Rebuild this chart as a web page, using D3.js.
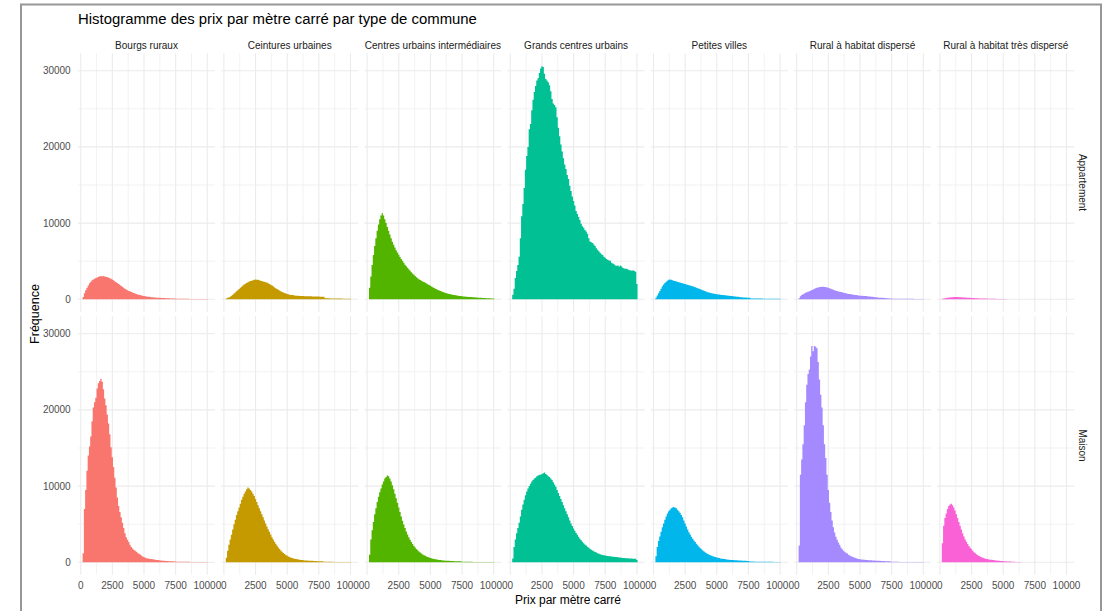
<!DOCTYPE html>
<html>
<head>
<meta charset="utf-8">
<script src="https://cdn.jsdelivr.net/npm/d3@7"></script>
<style>
  body { margin: 0; background: #fff; }
  svg { display: block; }
</style>
</head>
<body>
<svg id="chart" width="1109" height="611"></svg>
<script>
// Facet labels
const communes = [
  "Bourgs ruraux", "Ceintures urbaines", "Centres urbains intermédiaires",
  "Grands centres urbains", "Petites villes", "Rural à habitat dispersé",
  "Rural à habitat très dispersé"
];
const logements = ["Appartement", "Maison"];

// Histogram bins: width 100 €/m², centred on 200, 300, ..., 10000
const binFirstCentre = 200;
const binWidth = 100;

// Counts per bin — Appartement
const appBourgs = [
  300, 800, 1200, 1500, 1800, 2100, 2300, 2500, 2600, 2700,
  2800, 2850, 2950, 3000, 3050, 3000, 3050, 3000, 2950, 2900,
  2850, 2750, 2700, 2600, 2500, 2350, 2250, 2150, 2000, 1900,
  1750, 1650, 1500, 1400, 1300, 1200, 1100, 1050, 950, 900,
  820, 760, 700, 640, 590, 550, 500, 460, 420, 400,
  370, 340, 320, 300, 280, 260, 250, 230, 220, 210,
  200, 190, 180, 170, 160, 150, 140, 130, 130, 120,
  110, 110, 100, 90, 85, 80, 80, 75, 70, 70,
  65, 65, 60, 60, 55, 55, 50, 50, 50, 45,
  45, 45, 40, 40, 40, 35, 35, 35, 30
];
const appCeintures = [
  100, 200, 250, 350, 450, 600, 750, 900, 1050, 1200,
  1350, 1500, 1650, 1800, 1950, 2050, 2150, 2250, 2350, 2400,
  2450, 2500, 2550, 2600, 2550, 2550, 2500, 2450, 2400, 2350,
  2300, 2250, 2200, 2100, 2000, 1900, 1800, 1700, 1550, 1450,
  1350, 1250, 1150, 1050, 950, 880, 820, 760, 700, 650,
  610, 580, 550, 530, 500, 480, 460, 450, 440, 430,
  420, 420, 410, 410, 400, 400, 390, 390, 380, 380,
  370, 370, 360, 360, 350, 350, 340, 340, 150, 140,
  130, 130, 120, 120, 110, 110, 100, 100, 100, 90,
  90, 90, 80, 80, 80, 70, 70, 70, 60
];
const appCentres = [
  1500, 3000, 4500, 5800, 7000, 8000, 9000, 9800, 10500, 11000,
  11300, 11000, 10500, 10000, 9500, 9000, 8500, 8000, 7550, 7150,
  6800, 6450, 6150, 5850, 5550, 5300, 5050, 4800, 4550, 4350,
  4150, 3950, 3750, 3550, 3380, 3220, 3060, 2910, 2770, 2640,
  2530, 2440, 2350, 2260, 2170, 2090, 1980, 1880, 1780, 1680,
  1570, 1480, 1390, 1310, 1230, 1140, 1080, 1020, 960, 900,
  840, 790, 740, 700, 660, 620, 580, 550, 520, 490,
  460, 440, 420, 400, 380, 360, 345, 330, 315, 300,
  290, 280, 270, 255, 240, 230, 220, 210, 195, 180,
  170, 160, 150, 140, 130, 125, 120, 115, 110
];
const appGrands = [
  600, 1400, 2800, 3700, 4500, 5600, 8000, 10900, 12500, 14600,
  17000, 18800, 20000, 22300, 23000, 24800, 26200, 27200, 28000, 28700,
  29000, 29700, 30300, 30600, 30500, 29600, 28900, 28700, 28500, 28100,
  27300, 26300, 25700, 25500, 25200, 23900, 22500, 21400, 20300, 19400,
  18500, 17700, 17100, 16300, 15800, 14900, 14200, 13500, 12900, 12300,
  11600, 11200, 10800, 10400, 9900, 9600, 9400, 9100, 8900, 8600,
  8000, 7600, 7500, 7400, 7200, 7000, 6700, 6500, 6300, 6100,
  5900, 5800, 5600, 5450, 5300, 5200, 5100, 5050, 4800, 4700,
  4600, 4450, 4400, 4450, 4300, 4450, 4300, 4100, 4050, 4000,
  4000, 3900, 3800, 3800, 3750, 3800, 3700, 3600, 2000
];
const appPetites = [
  200, 500, 800, 1100, 1400, 1700, 1950, 2150, 2300, 2450,
  2550, 2600, 2550, 2500, 2450, 2400, 2350, 2300, 2250, 2200,
  2150, 2100, 2050, 2000, 1950, 1900, 1850, 1800, 1750, 1700,
  1650, 1580, 1520, 1460, 1400, 1330, 1260, 1190, 1120, 1050,
  990, 930, 880, 830, 790, 760, 730, 700, 670, 640,
  620, 600, 580, 560, 540, 520, 500, 480, 460, 440,
  420, 400, 380, 360, 340, 320, 300, 280, 260, 250,
  240, 230, 220, 210, 200, 120, 115, 110, 105, 100,
  100, 95, 95, 90, 90, 85, 85, 80, 80, 80,
  75, 75, 70, 70, 70, 65, 65, 60, 60
];
const appDisperse = [
  150, 400, 550, 650, 750, 850, 920, 980, 1050, 1130,
  1220, 1300, 1380, 1440, 1500, 1550, 1600, 1630, 1650, 1650,
  1620, 1600, 1560, 1500, 1440, 1380, 1320, 1260, 1200, 1130,
  1080, 1040, 1000, 960, 920, 870, 820, 780, 740, 710,
  680, 660, 640, 610, 580, 550, 520, 500, 480, 460,
  450, 440, 430, 420, 400, 380, 360, 340, 320, 300,
  280, 260, 240, 220, 210, 200, 190, 180, 170, 150,
  130, 110, 90, 90, 85, 85, 80, 80, 80, 75,
  75, 75, 70, 70, 70, 65, 65, 65, 60, 60,
  60, 55, 55, 55, 50, 50, 50, 50, 45
];
const appTresDisperse = [
  80, 120, 150, 180, 200, 230, 250, 270, 280, 290,
  300, 300, 290, 280, 270, 260, 250, 240, 230, 220,
  210, 200, 190, 180, 170, 160, 150, 140, 130, 120,
  115, 110, 105, 100, 95, 90, 85, 80, 75, 70,
  65, 60, 60, 55, 50, 50, 45, 40, 40, 35,
  30, 0, 0, 0, 0, 0, 0, 0, 0, 0,
  0, 0, 0, 0, 0, 0, 0, 0, 0, 0,
  0, 0, 0, 0, 0, 0, 0, 0, 0, 0,
  0, 0, 0, 0, 0, 0, 0, 0, 0, 0,
  0, 0, 0, 0, 0, 0, 0, 0, 0
];

// Counts per bin — Maison
const maiBourgs = [
  1200, 7000, 9500, 12000, 14000, 15200, 16500, 18500, 20300, 21000,
  21600, 22800, 23500, 23800, 24100, 23700, 22700, 21500, 20600, 19400,
  18200, 16800, 15100, 13800, 12500, 11100, 9800, 8500, 7400, 6600,
  5900, 5200, 4500, 3800, 3300, 2950, 2650, 2300, 2000, 1800,
  1650, 1500, 1380, 1250, 1120, 1020, 880, 750, 680, 600,
  540, 500, 470, 440, 420, 400, 370, 340, 310, 290,
  270, 250, 230, 210, 195, 180, 170, 160, 150, 140,
  135, 130, 110, 90, 85, 80, 80, 75, 70, 70,
  65, 65, 60, 60, 60, 55, 55, 50, 50, 50,
  45, 45, 45, 40, 40, 40, 35, 35, 30
];
const maiCeintures = [
  600, 1500, 2300, 3000, 3600, 4300, 5000, 5600, 6200, 6700,
  7200, 7700, 8200, 8600, 9000, 9300, 9600, 9800, 9700, 9500,
  9300, 9000, 8700, 8300, 7900, 7500, 7100, 6700, 6300, 5900,
  5500, 5100, 4700, 4350, 4000, 3650, 3300, 3000, 2700, 2450,
  2200, 1950, 1750, 1550, 1380, 1220, 1080, 950, 850, 760,
  680, 610, 550, 500, 460, 420, 390, 360, 330, 310,
  290, 270, 250, 240, 230, 220, 210, 200, 190, 180,
  170, 160, 150, 150, 140, 140, 130, 80, 75, 70,
  70, 65, 65, 60, 60, 55, 55, 55, 50, 50,
  50, 45, 45, 45, 40, 40, 40, 35, 35
];
const maiCentres = [
  1000, 3000, 4200, 5300, 6300, 7100, 7900, 8600, 9200, 9700,
  10200, 10600, 11000, 11200, 11400, 11300, 11000, 10600, 10100, 9600,
  9000, 8400, 7800, 7200, 6600, 6000, 5450, 4950, 4500, 4050,
  3650, 3300, 2950, 2650, 2400, 2150, 1950, 1750, 1580, 1420,
  1280, 1150, 1040, 940, 850, 770, 700, 630, 570, 520,
  470, 430, 400, 370, 340, 310, 290, 270, 250, 230,
  220, 210, 200, 190, 180, 170, 160, 150, 145, 140,
  135, 130, 125, 80, 75, 75, 70, 70, 65, 65,
  60, 60, 55, 55, 55, 50, 50, 50, 45, 45,
  45, 40, 40, 40, 35, 35, 35, 30, 30
];
const maiGrands = [
  500, 2000, 3000, 3800, 4500, 5200, 6000, 6900, 7600, 8200,
  8800, 9300, 9700, 10000, 10300, 10600, 10800, 11000, 11100, 11300,
  11400, 11500, 11500, 11600, 11700, 11800, 11600, 11500, 11300, 11200,
  11000, 10800, 10500, 10200, 9900, 9500, 9100, 8700, 8300, 7900,
  7500, 7100, 6700, 6300, 5900, 5500, 5100, 4750, 4450, 4150,
  3850, 3600, 3350, 3100, 2900, 2700, 2500, 2350, 2200, 2050,
  1900, 1780, 1660, 1550, 1450, 1360, 1280, 1200, 1130, 1060,
  1000, 960, 920, 880, 850, 820, 800, 780, 760, 740,
  720, 700, 680, 660, 640, 620, 600, 580, 560, 540,
  530, 520, 510, 500, 490, 480, 470, 460, 300
];
const maiPetites = [
  800, 2000, 2800, 3400, 4000, 4600, 5100, 5600, 6000, 6400,
  6700, 6900, 7100, 7200, 7250, 7200, 7100, 6900, 6700, 6500,
  6200, 5900, 5500, 5100, 4700, 4300, 3950, 3650, 3350, 3100,
  2850, 2650, 2450, 2250, 2050, 1850, 1700, 1550, 1420, 1300,
  1190, 1090, 1000, 920, 850, 790, 730, 680, 630, 590,
  550, 510, 480, 450, 420, 390, 370, 350, 330, 310,
  300, 290, 280, 270, 260, 250, 240, 230, 220, 210,
  200, 190, 180, 170, 100, 95, 90, 90, 85, 85,
  80, 80, 75, 75, 70, 70, 70, 65, 65, 65,
  60, 60, 60, 55, 55, 55, 50, 50, 50
];
const maiDisperse = [
  2200, 11500, 13500, 15500, 18000, 21000, 23300, 24700, 25300, 27000,
  28400, 27700, 28400, 28300, 28100, 26300, 24000, 22000, 20300, 18000,
  15500, 13700, 11500, 9500, 7800, 6600, 5500, 4600, 3900, 3350,
  2950, 2600, 2300, 1950, 1700, 1520, 1380, 1250, 1150, 1000,
  900, 800, 720, 650, 590, 530, 480, 440, 400, 380,
  360, 340, 325, 310, 295, 280, 270, 260, 250, 240,
  230, 220, 210, 200, 190, 180, 170, 160, 150, 145,
  140, 135, 130, 70, 65, 65, 60, 60, 60, 55,
  55, 55, 50, 50, 50, 50, 45, 45, 45, 45,
  40, 40, 40, 40, 35, 35, 35, 35, 30
];
const maiTresDisperse = [
  2500, 4800, 5800, 6400, 7000, 7400, 7600, 7700, 7500, 7200,
  6800, 6300, 5800, 5300, 4800, 4300, 3800, 3400, 3000, 2700,
  2400, 2150, 1900, 1700, 1500, 1330, 1180, 1050, 930, 830,
  740, 660, 590, 530, 480, 440, 410, 380, 350, 320,
  290, 270, 250, 230, 210, 190, 170, 160, 150, 140,
  130, 120, 110, 100, 90, 80, 70, 60, 50, 40,
  30, 25, 25, 20, 20, 20, 15, 15, 15, 10,
  10, 10, 0, 0, 10, 0, 0, 0, 0, 0,
  0, 0, 0, 0, 0, 0, 0, 0, 0, 0,
  0, 0, 0, 0, 0, 0, 0, 0, 0
];

// Axis ticks
const xTicks = [0, 2500, 5000, 7500, 10000];
const xMinorTicks = [1250, 3750, 6250, 8750];
const yTicks = [0, 10000, 20000, 30000];
const yMinorTicks = [5000, 15000, 25000];

// Fill colours, one per type de commune
const palette = ["#F8766D", "#C49A00", "#53B400", "#00C094", "#00B6EB", "#A58AFF", "#FB61D7"];

const countsByRow = [
  [appBourgs, appCeintures, appCentres, appGrands, appPetites, appDisperse, appTresDisperse],
  [maiBourgs, maiCeintures, maiCentres, maiGrands, maiPetites, maiDisperse, maiTresDisperse]
];

// ---- layout ----
const font = "'Liberation Sans', Arial, Helvetica, sans-serif";
const panelLeft = 78, panelPitch = 143.2, panelW = 137;
const rowTop = [53.3, 316.3], panelH = 258.4;

const svg = d3.select("#chart");
svg.append("rect").attr("width", 1109).attr("height", 611).attr("fill", "#fff");

// frame around the figure
svg.append("path")
  .attr("d", "M21,640 V4.5 H1101 V640")
  .attr("fill", "none").attr("stroke", "#979797").attr("stroke-width", 2);

const x = d3.scaleLinear().domain([-213, 10608]).range([0, panelW]);
const y = d3.scaleLinear().domain([-1627, 32283]).range([panelH, 0]);

const area = d3.area()
  .x(d => x(d.x0))
  .y0(y(0))
  .y1(d => y(d.n))
  .curve(d3.curveStepAfter);

logements.forEach((logement, r) => {
  communes.forEach((commune, c) => {
    const g = svg.append("g")
      .attr("transform", `translate(${panelLeft + c * panelPitch},${rowTop[r]})`);

    // minor grid
    g.selectAll(".vminor").data(xMinorTicks).join("line")
      .attr("x1", d => x(d)).attr("x2", d => x(d))
      .attr("y1", 0).attr("y2", panelH)
      .attr("stroke", "#EFEFEF").attr("stroke-width", 0.8);
    g.selectAll(".hminor").data(yMinorTicks).join("line")
      .attr("x1", 0).attr("x2", panelW)
      .attr("y1", d => y(d)).attr("y2", d => y(d))
      .attr("stroke", "#EFEFEF").attr("stroke-width", 0.8);
    // major grid
    g.selectAll(".vmajor").data(xTicks).join("line")
      .attr("x1", d => x(d)).attr("x2", d => x(d))
      .attr("y1", 0).attr("y2", panelH)
      .attr("stroke", "#EBEBEB").attr("stroke-width", 1.1);
    g.selectAll(".hmajor").data(yTicks).join("line")
      .attr("x1", 0).attr("x2", panelW)
      .attr("y1", d => y(d)).attr("y2", d => y(d))
      .attr("stroke", "#EBEBEB").attr("stroke-width", 1.1);

    // histogram
    const counts = countsByRow[r][c];
    const bins = counts.map((n, i) => ({ x0: binFirstCentre + i * binWidth - binWidth / 2, n }));
    const last = bins[bins.length - 1];
    bins.push({ x0: last.x0 + binWidth, n: last.n });
    g.append("path").datum(bins)
      .attr("d", area)
      .attr("fill", palette[c]);
  });
});

// column strips
communes.forEach((commune, c) => {
  svg.append("text")
    .attr("x", panelLeft + c * panelPitch + panelW / 2)
    .attr("y", 48.5)
    .attr("text-anchor", "middle")
    .attr("font-family", font).attr("font-size", 10).attr("fill", "#1A1A1A")
    .text(commune);
});

// row strips
logements.forEach((logement, r) => {
  svg.append("text")
    .attr("transform", `translate(1079,${rowTop[r] + panelH / 2}) rotate(90)`)
    .attr("text-anchor", "middle")
    .attr("font-family", font).attr("font-size", 10).attr("fill", "#1A1A1A")
    .text(logement);
});

// y tick labels
rowTop.forEach(top => {
  yTicks.forEach(t => {
    svg.append("text")
      .attr("x", 70.7).attr("y", top + y(t))
      .attr("dy", "0.35em")
      .attr("text-anchor", "end")
      .attr("font-family", font).attr("font-size", 10).attr("fill", "#4D4D4D")
      .text(t);
  });
});

// x tick labels
communes.forEach((commune, c) => {
  xTicks.forEach(t => {
    svg.append("text")
      .attr("x", panelLeft + c * panelPitch + x(t)).attr("y", 585)
      .attr("dy", "0.35em")
      .attr("text-anchor", "middle")
      .attr("font-family", font).attr("font-size", 10).attr("fill", "#4D4D4D")
      .text(t);
  });
});

// titles
svg.append("text")
  .attr("x", 78).attr("y", 23.5)
  .attr("font-family", font).attr("font-size", 14.9).attr("fill", "#000")
  .text("Histogramme des prix par mètre carré par type de commune");

svg.append("text")
  .attr("x", 568).attr("y", 604)
  .attr("text-anchor", "middle")
  .attr("font-family", font).attr("font-size", 12).attr("fill", "#000")
  .text("Prix par mètre carré");

svg.append("text")
  .attr("transform", `translate(39,314) rotate(-90)`)
  .attr("text-anchor", "middle")
  .attr("font-family", font).attr("font-size", 12.5).attr("fill", "#000")
  .text("Fréquence");
</script>
</body>
</html>
